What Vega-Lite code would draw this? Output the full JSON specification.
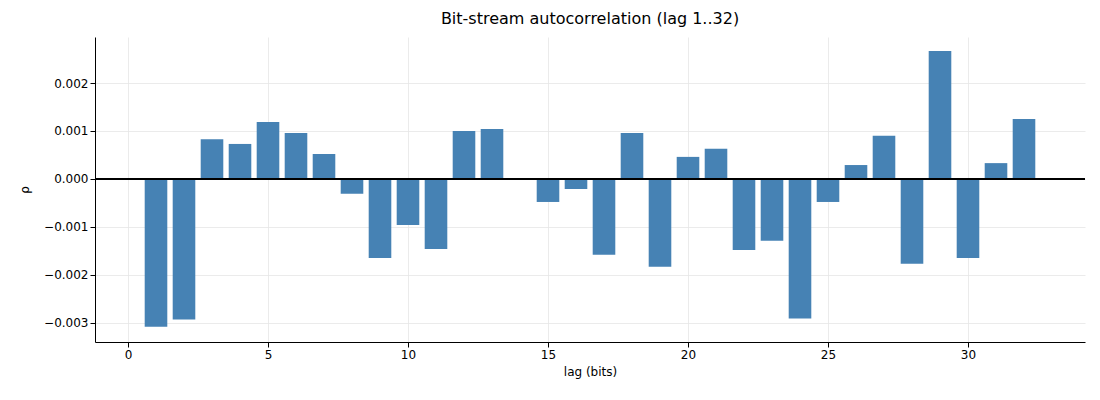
{
  "$schema": "https://vega.github.io/schema/vega-lite/v6.json",
  "width": 990,
  "height": 305,
  "autosize": "none",
  "padding": {"left": 95, "top": 37, "right": 15, "bottom": 58},
  "background": "white",
  "title": {"text": "Bit-stream autocorrelation (lag 1..32)", "font": "DejaVu Sans", "fontSize": 16, "fontWeight": "normal", "offset": 10},
  "data": {"values": [
    {"lag": 1, "rho": -0.00308}, {"lag": 2, "rho": -0.00293}, {"lag": 3, "rho": 0.00083},
    {"lag": 4, "rho": 0.00073}, {"lag": 5, "rho": 0.00119}, {"lag": 6, "rho": 0.00096},
    {"lag": 7, "rho": 0.00052}, {"lag": 8, "rho": -0.00031}, {"lag": 9, "rho": -0.00165},
    {"lag": 10, "rho": -0.00096}, {"lag": 11, "rho": -0.00146}, {"lag": 12, "rho": 0.001},
    {"lag": 13, "rho": 0.00104}, {"lag": 14, "rho": 0.00002}, {"lag": 15, "rho": -0.00048},
    {"lag": 16, "rho": -0.00021}, {"lag": 17, "rho": -0.00158}, {"lag": 18, "rho": 0.00096},
    {"lag": 19, "rho": -0.00183}, {"lag": 20, "rho": 0.00046}, {"lag": 21, "rho": 0.00063},
    {"lag": 22, "rho": -0.00148}, {"lag": 23, "rho": -0.00129}, {"lag": 24, "rho": -0.00291},
    {"lag": 25, "rho": -0.00048}, {"lag": 26, "rho": 0.00029}, {"lag": 27, "rho": 0.0009},
    {"lag": 28, "rho": -0.00177}, {"lag": 29, "rho": 0.00267}, {"lag": 30, "rho": -0.00165},
    {"lag": 31, "rho": 0.00033}, {"lag": 32, "rho": 0.00125}
  ]},
  "layer": [
    {
      "mark": {"type": "bar", "color": "#4682b4", "size": 22.6},
      "encoding": {
        "x": {"field": "lag", "type": "quantitative", "title": "lag (bits)",
              "scale": {"domain": [-1, 34], "nice": false, "zero": false},
              "axis": {"values": [0, 5, 10, 15, 20, 25, 30]}},
        "y": {"field": "rho", "type": "quantitative", "title": "ρ",
              "scale": {"domain": [-0.0034, 0.00296], "nice": false},
              "axis": {"values": [-0.003, -0.002, -0.001, 0, 0.001, 0.002], "format": ".3f"}}
      }
    },
    {
      "mark": {"type": "rule", "color": "black", "strokeWidth": 0.8},
      "encoding": {"y": {"datum": 0}}
    }
  ],
  "config": {
    "view": {"stroke": null},
    "axis": {
      "labelFont": "DejaVu Sans", "titleFont": "DejaVu Sans", "labelFontSize": 12, "titleFontSize": 12,
      "titleFontWeight": "normal", "labelColor": "black", "titleColor": "black",
      "domainColor": "black", "tickColor": "black", "gridColor": "#e6e6e6", "gridWidth": 0.8
    },
    "axisY": {"titlePadding": 12},
    "axisX": {"titlePadding": 6}
  }
}
